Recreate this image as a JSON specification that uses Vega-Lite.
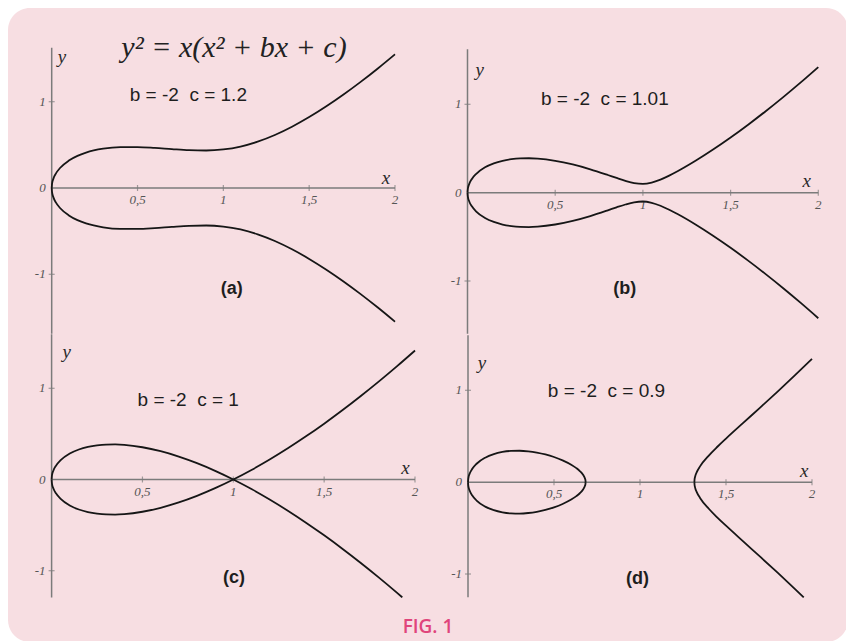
{
  "$schema": "https://vega.github.io/schema/vega-lite/v6.json",
  "width": 846,
  "height": 641,
  "padding": 0,
  "autosize": {"type": "none"},
  "background": "#ffffff",
  "config": {"view": {"stroke": null}},
  "datasets": {
    "a": [
      {"t": "ax", "x": 0, "y": 0, "x2": 2, "y2": 0},
      {"t": "ax", "x": 0, "y": -1.688, "x2": 0, "y2": 1.626},
      {"t": "xt", "x": 0.5, "y": 0, "lab": "0,5"},
      {"t": "xt", "x": 1, "y": 0, "lab": "1"},
      {"t": "xt", "x": 1.5, "y": 0, "lab": "1,5"},
      {"t": "xt", "x": 2, "y": 0, "lab": "2"},
      {"t": "yt", "x": 0, "y": 1, "lab": "1"},
      {"t": "yt", "x": 0, "y": -1, "lab": "-1"},
      {"t": "y0", "x": 0, "y": 0, "lab": "0"},
      {"t": "prm", "x": 0.796, "y": 1.08, "lab": "b = -2\u00a0\u00a0c = 1.2"},
      {"t": "pl", "x": 1.049, "y": -1.167, "lab": "(a)"},
      {"t": "nm", "x": 1.948, "y": 0.119, "lab": "x"},
      {"t": "nm", "x": 0.06, "y": 1.521, "lab": "y"},
      {"t": "fml", "x": 1.062, "y": 1.626, "lab": "y² = x(x² + bx + c)"},
      {"t": "c", "b": "u", "x": 0, "y": 0},
      {"t": "c", "b": "u", "x": 0.002, "y": 0.0489},
      {"t": "c", "b": "u", "x": 0.01, "y": 0.1086},
      {"t": "c", "b": "u", "x": 0.025, "y": 0.1696},
      {"t": "c", "b": "u", "x": 0.05, "y": 0.2348},
      {"t": "c", "b": "u", "x": 0.1, "y": 0.3178},
      {"t": "c", "b": "u", "x": 0.15, "y": 0.372},
      {"t": "c", "b": "u", "x": 0.2, "y": 0.4099},
      {"t": "c", "b": "u", "x": 0.3, "y": 0.455},
      {"t": "c", "b": "u", "x": 0.4, "y": 0.4733},
      {"t": "c", "b": "u", "x": 0.5, "y": 0.4743},
      {"t": "c", "b": "u", "x": 0.6, "y": 0.4648},
      {"t": "c", "b": "u", "x": 0.7, "y": 0.4506},
      {"t": "c", "b": "u", "x": 0.8, "y": 0.4382},
      {"t": "c", "b": "u", "x": 0.9, "y": 0.4347},
      {"t": "c", "b": "u", "x": 1, "y": 0.4472},
      {"t": "c", "b": "u", "x": 1.1, "y": 0.4806},
      {"t": "c", "b": "u", "x": 1.2, "y": 0.5367},
      {"t": "c", "b": "u", "x": 1.3, "y": 0.614},
      {"t": "c", "b": "u", "x": 1.4, "y": 0.7099},
      {"t": "c", "b": "u", "x": 1.5, "y": 0.8216},
      {"t": "c", "b": "u", "x": 1.6, "y": 0.9466},
      {"t": "c", "b": "u", "x": 1.7, "y": 1.0831},
      {"t": "c", "b": "u", "x": 1.8, "y": 1.2296},
      {"t": "c", "b": "u", "x": 1.9, "y": 1.3853},
      {"t": "c", "b": "u", "x": 2, "y": 1.5492},
      {"t": "c", "b": "l", "x": 0, "y": 0},
      {"t": "c", "b": "l", "x": 0.002, "y": -0.0489},
      {"t": "c", "b": "l", "x": 0.01, "y": -0.1086},
      {"t": "c", "b": "l", "x": 0.025, "y": -0.1696},
      {"t": "c", "b": "l", "x": 0.05, "y": -0.2348},
      {"t": "c", "b": "l", "x": 0.1, "y": -0.3178},
      {"t": "c", "b": "l", "x": 0.15, "y": -0.372},
      {"t": "c", "b": "l", "x": 0.2, "y": -0.4099},
      {"t": "c", "b": "l", "x": 0.3, "y": -0.455},
      {"t": "c", "b": "l", "x": 0.4, "y": -0.4733},
      {"t": "c", "b": "l", "x": 0.5, "y": -0.4743},
      {"t": "c", "b": "l", "x": 0.6, "y": -0.4648},
      {"t": "c", "b": "l", "x": 0.7, "y": -0.4506},
      {"t": "c", "b": "l", "x": 0.8, "y": -0.4382},
      {"t": "c", "b": "l", "x": 0.9, "y": -0.4347},
      {"t": "c", "b": "l", "x": 1, "y": -0.4472},
      {"t": "c", "b": "l", "x": 1.1, "y": -0.4806},
      {"t": "c", "b": "l", "x": 1.2, "y": -0.5367},
      {"t": "c", "b": "l", "x": 1.3, "y": -0.614},
      {"t": "c", "b": "l", "x": 1.4, "y": -0.7099},
      {"t": "c", "b": "l", "x": 1.5, "y": -0.8216},
      {"t": "c", "b": "l", "x": 1.6, "y": -0.9466},
      {"t": "c", "b": "l", "x": 1.7, "y": -1.0831},
      {"t": "c", "b": "l", "x": 1.8, "y": -1.2296},
      {"t": "c", "b": "l", "x": 1.9, "y": -1.3853},
      {"t": "c", "b": "l", "x": 2, "y": -1.5492}
    ],
    "b": [
      {"t": "ax", "x": 0, "y": 0, "x2": 2, "y2": 0},
      {"t": "ax", "x": 0, "y": -1.597, "x2": 0, "y2": 1.624},
      {"t": "xt", "x": 0.5, "y": 0, "lab": "0,5"},
      {"t": "xt", "x": 1, "y": 0, "lab": "1"},
      {"t": "xt", "x": 1.5, "y": 0, "lab": "1,5"},
      {"t": "xt", "x": 2, "y": 0, "lab": "2"},
      {"t": "yt", "x": 0, "y": 1, "lab": "1"},
      {"t": "yt", "x": 0, "y": -1, "lab": "-1"},
      {"t": "y0", "x": 0, "y": 0, "lab": "0"},
      {"t": "prm", "x": 0.783, "y": 1.055, "lab": "b = -2\u00a0\u00a0c = 1.01"},
      {"t": "pl", "x": 0.897, "y": -1.09, "lab": "(b)"},
      {"t": "nm", "x": 1.934, "y": 0.131, "lab": "x"},
      {"t": "nm", "x": 0.07, "y": 1.39, "lab": "y"},
      {"t": "c", "b": "u", "x": 0, "y": 0},
      {"t": "c", "b": "u", "x": 0.002, "y": 0.0449},
      {"t": "c", "b": "u", "x": 0.01, "y": 0.0995},
      {"t": "c", "b": "u", "x": 0.025, "y": 0.155},
      {"t": "c", "b": "u", "x": 0.05, "y": 0.2136},
      {"t": "c", "b": "u", "x": 0.1, "y": 0.2864},
      {"t": "c", "b": "u", "x": 0.15, "y": 0.3315},
      {"t": "c", "b": "u", "x": 0.2, "y": 0.3606},
      {"t": "c", "b": "u", "x": 0.25, "y": 0.3783},
      {"t": "c", "b": "u", "x": 0.3, "y": 0.3873},
      {"t": "c", "b": "u", "x": 0.35, "y": 0.3891},
      {"t": "c", "b": "u", "x": 0.4, "y": 0.3847},
      {"t": "c", "b": "u", "x": 0.5, "y": 0.3606},
      {"t": "c", "b": "u", "x": 0.6, "y": 0.3194},
      {"t": "c", "b": "u", "x": 0.7, "y": 0.2646},
      {"t": "c", "b": "u", "x": 0.8, "y": 0.2},
      {"t": "c", "b": "u", "x": 0.85, "y": 0.1662},
      {"t": "c", "b": "u", "x": 0.9, "y": 0.1342},
      {"t": "c", "b": "u", "x": 0.95, "y": 0.109},
      {"t": "c", "b": "u", "x": 1, "y": 0.1},
      {"t": "c", "b": "u", "x": 1.05, "y": 0.1146},
      {"t": "c", "b": "u", "x": 1.1, "y": 0.1483},
      {"t": "c", "b": "u", "x": 1.15, "y": 0.1933},
      {"t": "c", "b": "u", "x": 1.2, "y": 0.245},
      {"t": "c", "b": "u", "x": 1.3, "y": 0.3606},
      {"t": "c", "b": "u", "x": 1.4, "y": 0.4879},
      {"t": "c", "b": "u", "x": 1.5, "y": 0.6245},
      {"t": "c", "b": "u", "x": 1.6, "y": 0.7694},
      {"t": "c", "b": "u", "x": 1.7, "y": 0.922},
      {"t": "c", "b": "u", "x": 1.8, "y": 1.0817},
      {"t": "c", "b": "u", "x": 1.9, "y": 1.2482},
      {"t": "c", "b": "u", "x": 2, "y": 1.4213},
      {"t": "c", "b": "l", "x": 0, "y": 0},
      {"t": "c", "b": "l", "x": 0.002, "y": -0.0449},
      {"t": "c", "b": "l", "x": 0.01, "y": -0.0995},
      {"t": "c", "b": "l", "x": 0.025, "y": -0.155},
      {"t": "c", "b": "l", "x": 0.05, "y": -0.2136},
      {"t": "c", "b": "l", "x": 0.1, "y": -0.2864},
      {"t": "c", "b": "l", "x": 0.15, "y": -0.3315},
      {"t": "c", "b": "l", "x": 0.2, "y": -0.3606},
      {"t": "c", "b": "l", "x": 0.25, "y": -0.3783},
      {"t": "c", "b": "l", "x": 0.3, "y": -0.3873},
      {"t": "c", "b": "l", "x": 0.35, "y": -0.3891},
      {"t": "c", "b": "l", "x": 0.4, "y": -0.3847},
      {"t": "c", "b": "l", "x": 0.5, "y": -0.3606},
      {"t": "c", "b": "l", "x": 0.6, "y": -0.3194},
      {"t": "c", "b": "l", "x": 0.7, "y": -0.2646},
      {"t": "c", "b": "l", "x": 0.8, "y": -0.2},
      {"t": "c", "b": "l", "x": 0.85, "y": -0.1662},
      {"t": "c", "b": "l", "x": 0.9, "y": -0.1342},
      {"t": "c", "b": "l", "x": 0.95, "y": -0.109},
      {"t": "c", "b": "l", "x": 1, "y": -0.1},
      {"t": "c", "b": "l", "x": 1.05, "y": -0.1146},
      {"t": "c", "b": "l", "x": 1.1, "y": -0.1483},
      {"t": "c", "b": "l", "x": 1.15, "y": -0.1933},
      {"t": "c", "b": "l", "x": 1.2, "y": -0.245},
      {"t": "c", "b": "l", "x": 1.3, "y": -0.3606},
      {"t": "c", "b": "l", "x": 1.4, "y": -0.4879},
      {"t": "c", "b": "l", "x": 1.5, "y": -0.6245},
      {"t": "c", "b": "l", "x": 1.6, "y": -0.7694},
      {"t": "c", "b": "l", "x": 1.7, "y": -0.922},
      {"t": "c", "b": "l", "x": 1.8, "y": -1.0817},
      {"t": "c", "b": "l", "x": 1.9, "y": -1.2482},
      {"t": "c", "b": "l", "x": 2, "y": -1.4213}
    ],
    "c": [
      {"t": "ax", "x": 0, "y": 0, "x2": 2, "y2": 0},
      {"t": "ax", "x": 0, "y": -1.294, "x2": 0, "y2": 1.593},
      {"t": "xt", "x": 0.5, "y": 0, "lab": "0,5"},
      {"t": "xt", "x": 1, "y": 0, "lab": "1"},
      {"t": "xt", "x": 1.5, "y": 0, "lab": "1,5"},
      {"t": "xt", "x": 2, "y": 0, "lab": "2"},
      {"t": "yt", "x": 0, "y": 1, "lab": "1"},
      {"t": "yt", "x": 0, "y": -1, "lab": "-1"},
      {"t": "y0", "x": 0, "y": 0, "lab": "0"},
      {"t": "prm", "x": 0.752, "y": 0.87, "lab": "b = -2\u00a0\u00a0c = 1"},
      {"t": "pl", "x": 1.004, "y": -1.077, "lab": "(c)"},
      {"t": "nm", "x": 1.948, "y": 0.127, "lab": "x"},
      {"t": "nm", "x": 0.083, "y": 1.4, "lab": "y"},
      {"t": "c", "b": "p", "x": 0, "y": 0},
      {"t": "c", "b": "p", "x": 0.002, "y": 0.0446},
      {"t": "c", "b": "p", "x": 0.01, "y": 0.099},
      {"t": "c", "b": "p", "x": 0.025, "y": 0.1542},
      {"t": "c", "b": "p", "x": 0.05, "y": 0.2124},
      {"t": "c", "b": "p", "x": 0.1, "y": 0.2846},
      {"t": "c", "b": "p", "x": 0.15, "y": 0.3292},
      {"t": "c", "b": "p", "x": 0.2, "y": 0.3578},
      {"t": "c", "b": "p", "x": 0.25, "y": 0.375},
      {"t": "c", "b": "p", "x": 0.3, "y": 0.3834},
      {"t": "c", "b": "p", "x": 0.35, "y": 0.3845},
      {"t": "c", "b": "p", "x": 0.4, "y": 0.3795},
      {"t": "c", "b": "p", "x": 0.5, "y": 0.3536},
      {"t": "c", "b": "p", "x": 0.6, "y": 0.3098},
      {"t": "c", "b": "p", "x": 0.7, "y": 0.251},
      {"t": "c", "b": "p", "x": 0.8, "y": 0.1789},
      {"t": "c", "b": "p", "x": 0.9, "y": 0.0949},
      {"t": "c", "b": "p", "x": 1, "y": 0},
      {"t": "c", "b": "p", "x": 1.1, "y": -0.1049},
      {"t": "c", "b": "p", "x": 1.2, "y": -0.2191},
      {"t": "c", "b": "p", "x": 1.3, "y": -0.3421},
      {"t": "c", "b": "p", "x": 1.4, "y": -0.4733},
      {"t": "c", "b": "p", "x": 1.5, "y": -0.6124},
      {"t": "c", "b": "p", "x": 1.6, "y": -0.7589},
      {"t": "c", "b": "p", "x": 1.7, "y": -0.9127},
      {"t": "c", "b": "p", "x": 1.8, "y": -1.0733},
      {"t": "c", "b": "p", "x": 1.9, "y": -1.2406},
      {"t": "c", "b": "p", "x": 1.93, "y": -1.292},
      {"t": "c", "b": "n", "x": 0, "y": 0},
      {"t": "c", "b": "n", "x": 0.002, "y": -0.0446},
      {"t": "c", "b": "n", "x": 0.01, "y": -0.099},
      {"t": "c", "b": "n", "x": 0.025, "y": -0.1542},
      {"t": "c", "b": "n", "x": 0.05, "y": -0.2124},
      {"t": "c", "b": "n", "x": 0.1, "y": -0.2846},
      {"t": "c", "b": "n", "x": 0.15, "y": -0.3292},
      {"t": "c", "b": "n", "x": 0.2, "y": -0.3578},
      {"t": "c", "b": "n", "x": 0.25, "y": -0.375},
      {"t": "c", "b": "n", "x": 0.3, "y": -0.3834},
      {"t": "c", "b": "n", "x": 0.35, "y": -0.3845},
      {"t": "c", "b": "n", "x": 0.4, "y": -0.3795},
      {"t": "c", "b": "n", "x": 0.5, "y": -0.3536},
      {"t": "c", "b": "n", "x": 0.6, "y": -0.3098},
      {"t": "c", "b": "n", "x": 0.7, "y": -0.251},
      {"t": "c", "b": "n", "x": 0.8, "y": -0.1789},
      {"t": "c", "b": "n", "x": 0.9, "y": -0.0949},
      {"t": "c", "b": "n", "x": 1, "y": 0},
      {"t": "c", "b": "n", "x": 1.1, "y": 0.1049},
      {"t": "c", "b": "n", "x": 1.2, "y": 0.2191},
      {"t": "c", "b": "n", "x": 1.3, "y": 0.3421},
      {"t": "c", "b": "n", "x": 1.4, "y": 0.4733},
      {"t": "c", "b": "n", "x": 1.5, "y": 0.6124},
      {"t": "c", "b": "n", "x": 1.6, "y": 0.7589},
      {"t": "c", "b": "n", "x": 1.7, "y": 0.9127},
      {"t": "c", "b": "n", "x": 1.8, "y": 1.0733},
      {"t": "c", "b": "n", "x": 1.9, "y": 1.2406},
      {"t": "c", "b": "n", "x": 2, "y": 1.4142}
    ],
    "d": [
      {"t": "ax", "x": 0, "y": 0, "x2": 2, "y2": 0},
      {"t": "ax", "x": 0, "y": -1.254, "x2": 0, "y2": 1.6},
      {"t": "xt", "x": 0.5, "y": 0, "lab": "0,5"},
      {"t": "xt", "x": 1, "y": 0, "lab": "1"},
      {"t": "xt", "x": 1.5, "y": 0, "lab": "1,5"},
      {"t": "xt", "x": 2, "y": 0, "lab": "2"},
      {"t": "yt", "x": 0, "y": 1, "lab": "1"},
      {"t": "yt", "x": 0, "y": -1, "lab": "-1"},
      {"t": "y0", "x": 0, "y": 0, "lab": "0"},
      {"t": "prm", "x": 0.805, "y": 0.992, "lab": "b = -2\u00a0\u00a0c = 0.9"},
      {"t": "pl", "x": 0.986, "y": -1.053, "lab": "(d)"},
      {"t": "nm", "x": 1.955, "y": 0.12, "lab": "x"},
      {"t": "nm", "x": 0.081, "y": 1.3, "lab": "y"},
      {"t": "c", "b": "eu", "x": 0, "y": 0},
      {"t": "c", "b": "eu", "x": 0.002, "y": 0.0423},
      {"t": "c", "b": "eu", "x": 0.01, "y": 0.0938},
      {"t": "c", "b": "eu", "x": 0.025, "y": 0.1458},
      {"t": "c", "b": "eu", "x": 0.05, "y": 0.2003},
      {"t": "c", "b": "eu", "x": 0.1, "y": 0.2665},
      {"t": "c", "b": "eu", "x": 0.15, "y": 0.3056},
      {"t": "c", "b": "eu", "x": 0.2, "y": 0.3286},
      {"t": "c", "b": "eu", "x": 0.25, "y": 0.34},
      {"t": "c", "b": "eu", "x": 0.3, "y": 0.3421},
      {"t": "c", "b": "eu", "x": 0.35, "y": 0.336},
      {"t": "c", "b": "eu", "x": 0.4, "y": 0.3225},
      {"t": "c", "b": "eu", "x": 0.45, "y": 0.3019},
      {"t": "c", "b": "eu", "x": 0.5, "y": 0.2739},
      {"t": "c", "b": "eu", "x": 0.55, "y": 0.2374},
      {"t": "c", "b": "eu", "x": 0.6, "y": 0.1897},
      {"t": "c", "b": "eu", "x": 0.63, "y": 0.1525},
      {"t": "c", "b": "eu", "x": 0.65, "y": 0.1209},
      {"t": "c", "b": "eu", "x": 0.67, "y": 0.0772},
      {"t": "c", "b": "eu", "x": 0.68, "y": 0.0404},
      {"t": "c", "b": "eu", "x": 0.683, "y": 0.0183},
      {"t": "c", "b": "eu", "x": 0.6838, "y": 0},
      {"t": "c", "b": "el", "x": 0, "y": 0},
      {"t": "c", "b": "el", "x": 0.002, "y": -0.0423},
      {"t": "c", "b": "el", "x": 0.01, "y": -0.0938},
      {"t": "c", "b": "el", "x": 0.025, "y": -0.1458},
      {"t": "c", "b": "el", "x": 0.05, "y": -0.2003},
      {"t": "c", "b": "el", "x": 0.1, "y": -0.2665},
      {"t": "c", "b": "el", "x": 0.15, "y": -0.3056},
      {"t": "c", "b": "el", "x": 0.2, "y": -0.3286},
      {"t": "c", "b": "el", "x": 0.25, "y": -0.34},
      {"t": "c", "b": "el", "x": 0.3, "y": -0.3421},
      {"t": "c", "b": "el", "x": 0.35, "y": -0.336},
      {"t": "c", "b": "el", "x": 0.4, "y": -0.3225},
      {"t": "c", "b": "el", "x": 0.45, "y": -0.3019},
      {"t": "c", "b": "el", "x": 0.5, "y": -0.2739},
      {"t": "c", "b": "el", "x": 0.55, "y": -0.2374},
      {"t": "c", "b": "el", "x": 0.6, "y": -0.1897},
      {"t": "c", "b": "el", "x": 0.63, "y": -0.1525},
      {"t": "c", "b": "el", "x": 0.65, "y": -0.1209},
      {"t": "c", "b": "el", "x": 0.67, "y": -0.0772},
      {"t": "c", "b": "el", "x": 0.68, "y": -0.0404},
      {"t": "c", "b": "el", "x": 0.683, "y": -0.0183},
      {"t": "c", "b": "el", "x": 0.6838, "y": 0},
      {"t": "c", "b": "ru", "x": 1.3162, "y": 0},
      {"t": "c", "b": "ru", "x": 1.317, "y": 0.0254},
      {"t": "c", "b": "ru", "x": 1.32, "y": 0.0563},
      {"t": "c", "b": "ru", "x": 1.33, "y": 0.1088},
      {"t": "c", "b": "ru", "x": 1.35, "y": 0.1743},
      {"t": "c", "b": "ru", "x": 1.4, "y": 0.2898},
      {"t": "c", "b": "ru", "x": 1.45, "y": 0.3855},
      {"t": "c", "b": "ru", "x": 1.5, "y": 0.4743},
      {"t": "c", "b": "ru", "x": 1.6, "y": 0.645},
      {"t": "c", "b": "ru", "x": 1.7, "y": 0.8143},
      {"t": "c", "b": "ru", "x": 1.8, "y": 0.9859},
      {"t": "c", "b": "ru", "x": 1.9, "y": 1.1615},
      {"t": "c", "b": "ru", "x": 2, "y": 1.3416},
      {"t": "c", "b": "rl", "x": 1.3162, "y": 0},
      {"t": "c", "b": "rl", "x": 1.317, "y": -0.0254},
      {"t": "c", "b": "rl", "x": 1.32, "y": -0.0563},
      {"t": "c", "b": "rl", "x": 1.33, "y": -0.1088},
      {"t": "c", "b": "rl", "x": 1.35, "y": -0.1743},
      {"t": "c", "b": "rl", "x": 1.4, "y": -0.2898},
      {"t": "c", "b": "rl", "x": 1.45, "y": -0.3855},
      {"t": "c", "b": "rl", "x": 1.5, "y": -0.4743},
      {"t": "c", "b": "rl", "x": 1.6, "y": -0.645},
      {"t": "c", "b": "rl", "x": 1.7, "y": -0.8143},
      {"t": "c", "b": "rl", "x": 1.8, "y": -0.9859},
      {"t": "c", "b": "rl", "x": 1.9, "y": -1.1615},
      {"t": "c", "b": "rl", "x": 1.952, "y": -1.2546}
    ]
  },
  "layer": [
    {
      "data": {"values": [
        {"t": "bg", "x": 0, "x2": 1, "y": 0, "y2": 1},
        {"t": "fig", "x": 0.5, "y": 0.024, "lab": "FIG. 1"}
      ]},
      "encoding": {
        "x": {"field": "x", "type": "quantitative", "axis": null, "scale": {"domain": [0, 1], "range": [8, 848], "nice": false, "zero": false}},
        "y": {"field": "y", "type": "quantitative", "axis": null, "scale": {"domain": [0, 1], "range": [642, 8], "nice": false, "zero": false}}
      },
      "layer": [
        {"transform": [{"filter": "datum.t == 'bg'"}], "mark": {"type": "rect", "color": "#f7dee2", "cornerRadius": 22}, "encoding": {"x2": {"field": "x2"}, "y2": {"field": "y2"}}},
        {"transform": [{"filter": "datum.t == 'fig'"}], "mark": {"type": "text", "font": "Open Sans", "fontWeight": 600, "fontSize": 19, "color": "#e0457b", "align": "center", "baseline": "middle"}, "encoding": {"text": {"field": "lab"}}}
      ]
    },
    {
      "data": {"name": "a"},
      "encoding": {
        "x": {"field": "x", "type": "quantitative", "axis": null, "scale": {"domain": [0, 2], "range": [51.7, 395], "nice": false, "zero": false}},
        "y": {"field": "y", "type": "quantitative", "axis": null, "scale": {"domain": [-1, 1], "range": [274.3, 101.7], "nice": false, "zero": false}}
      },
      "layer": [
        {"transform": [{"filter": "datum.t == 'ax'"}], "mark": {"type": "rule", "color": "#7b7b7b", "strokeWidth": 1.5}, "encoding": {"x2": {"field": "x2"}, "y2": {"field": "y2"}}},
        {"transform": [{"filter": "datum.t == 'xt'"}], "mark": {"type": "tick", "orient": "vertical", "color": "#7b7b7b", "thickness": 1.2, "size": 6}},
        {"transform": [{"filter": "datum.t == 'yt'"}], "mark": {"type": "tick", "orient": "horizontal", "color": "#7b7b7b", "thickness": 1.2, "size": 6}},
        {"transform": [{"filter": "datum.t == 'xt'"}], "mark": {"type": "text", "font": "Liberation Serif", "fontStyle": "italic", "fontSize": 13, "color": "#555555", "align": "center", "baseline": "middle", "dy": 12}, "encoding": {"text": {"field": "lab"}}},
        {"transform": [{"filter": "datum.t == 'yt' || datum.t == 'y0'"}], "mark": {"type": "text", "font": "Liberation Serif", "fontStyle": "italic", "fontSize": 13, "color": "#555555", "align": "right", "baseline": "middle", "dx": -6}, "encoding": {"text": {"field": "lab"}}},
        {"transform": [{"filter": "datum.t == 'c'"}], "mark": {"type": "line", "color": "#161616", "strokeWidth": 1.8, "interpolate": "monotone"}, "encoding": {"detail": {"field": "b"}}},
        {"transform": [{"filter": "datum.t == 'prm'"}], "mark": {"type": "text", "font": "Liberation Sans", "fontSize": 19, "color": "#1e1e1e", "align": "center", "baseline": "middle"}, "encoding": {"text": {"field": "lab"}}},
        {"transform": [{"filter": "datum.t == 'pl'"}], "mark": {"type": "text", "font": "Liberation Sans", "fontWeight": "bold", "fontSize": 18, "color": "#1e1e1e", "align": "center", "baseline": "middle"}, "encoding": {"text": {"field": "lab"}}},
        {"transform": [{"filter": "datum.t == 'nm'"}], "mark": {"type": "text", "font": "Liberation Serif", "fontStyle": "italic", "fontSize": 19, "color": "#2a2a2a", "align": "center", "baseline": "middle"}, "encoding": {"text": {"field": "lab"}}},
        {"transform": [{"filter": "datum.t == 'fml'"}], "mark": {"type": "text", "font": "Liberation Serif", "fontStyle": "italic", "fontSize": 30, "color": "#222222", "align": "center", "baseline": "middle"}, "encoding": {"text": {"field": "lab"}}}
      ]
    },
    {
      "data": {"name": "b"},
      "encoding": {
        "x": {"field": "x", "type": "quantitative", "axis": null, "scale": {"domain": [0, 2], "range": [467.5, 818.3], "nice": false, "zero": false}},
        "y": {"field": "y", "type": "quantitative", "axis": null, "scale": {"domain": [-1, 1], "range": [281, 104.3], "nice": false, "zero": false}}
      },
      "layer": [
        {"transform": [{"filter": "datum.t == 'ax'"}], "mark": {"type": "rule", "color": "#7b7b7b", "strokeWidth": 1.5}, "encoding": {"x2": {"field": "x2"}, "y2": {"field": "y2"}}},
        {"transform": [{"filter": "datum.t == 'xt'"}], "mark": {"type": "tick", "orient": "vertical", "color": "#7b7b7b", "thickness": 1.2, "size": 6}},
        {"transform": [{"filter": "datum.t == 'yt'"}], "mark": {"type": "tick", "orient": "horizontal", "color": "#7b7b7b", "thickness": 1.2, "size": 6}},
        {"transform": [{"filter": "datum.t == 'xt'"}], "mark": {"type": "text", "font": "Liberation Serif", "fontStyle": "italic", "fontSize": 13, "color": "#555555", "align": "center", "baseline": "middle", "dy": 12}, "encoding": {"text": {"field": "lab"}}},
        {"transform": [{"filter": "datum.t == 'yt' || datum.t == 'y0'"}], "mark": {"type": "text", "font": "Liberation Serif", "fontStyle": "italic", "fontSize": 13, "color": "#555555", "align": "right", "baseline": "middle", "dx": -6}, "encoding": {"text": {"field": "lab"}}},
        {"transform": [{"filter": "datum.t == 'c'"}], "mark": {"type": "line", "color": "#161616", "strokeWidth": 1.8, "interpolate": "monotone"}, "encoding": {"detail": {"field": "b"}}},
        {"transform": [{"filter": "datum.t == 'prm'"}], "mark": {"type": "text", "font": "Liberation Sans", "fontSize": 19, "color": "#1e1e1e", "align": "center", "baseline": "middle"}, "encoding": {"text": {"field": "lab"}}},
        {"transform": [{"filter": "datum.t == 'pl'"}], "mark": {"type": "text", "font": "Liberation Sans", "fontWeight": "bold", "fontSize": 18, "color": "#1e1e1e", "align": "center", "baseline": "middle"}, "encoding": {"text": {"field": "lab"}}},
        {"transform": [{"filter": "datum.t == 'nm'"}], "mark": {"type": "text", "font": "Liberation Serif", "fontStyle": "italic", "fontSize": 19, "color": "#2a2a2a", "align": "center", "baseline": "middle"}, "encoding": {"text": {"field": "lab"}}}
      ]
    },
    {
      "data": {"name": "c"},
      "encoding": {
        "x": {"field": "x", "type": "quantitative", "axis": null, "scale": {"domain": [0, 2], "range": [51.6, 415], "nice": false, "zero": false}},
        "y": {"field": "y", "type": "quantitative", "axis": null, "scale": {"domain": [-1, 1], "range": [570.7, 388.3], "nice": false, "zero": false}}
      },
      "layer": [
        {"transform": [{"filter": "datum.t == 'ax'"}], "mark": {"type": "rule", "color": "#7b7b7b", "strokeWidth": 1.5}, "encoding": {"x2": {"field": "x2"}, "y2": {"field": "y2"}}},
        {"transform": [{"filter": "datum.t == 'xt'"}], "mark": {"type": "tick", "orient": "vertical", "color": "#7b7b7b", "thickness": 1.2, "size": 6}},
        {"transform": [{"filter": "datum.t == 'yt'"}], "mark": {"type": "tick", "orient": "horizontal", "color": "#7b7b7b", "thickness": 1.2, "size": 6}},
        {"transform": [{"filter": "datum.t == 'xt'"}], "mark": {"type": "text", "font": "Liberation Serif", "fontStyle": "italic", "fontSize": 13, "color": "#555555", "align": "center", "baseline": "middle", "dy": 12}, "encoding": {"text": {"field": "lab"}}},
        {"transform": [{"filter": "datum.t == 'yt' || datum.t == 'y0'"}], "mark": {"type": "text", "font": "Liberation Serif", "fontStyle": "italic", "fontSize": 13, "color": "#555555", "align": "right", "baseline": "middle", "dx": -6}, "encoding": {"text": {"field": "lab"}}},
        {"transform": [{"filter": "datum.t == 'c'"}], "mark": {"type": "line", "color": "#161616", "strokeWidth": 1.8, "interpolate": "monotone"}, "encoding": {"detail": {"field": "b"}}},
        {"transform": [{"filter": "datum.t == 'prm'"}], "mark": {"type": "text", "font": "Liberation Sans", "fontSize": 19, "color": "#1e1e1e", "align": "center", "baseline": "middle"}, "encoding": {"text": {"field": "lab"}}},
        {"transform": [{"filter": "datum.t == 'pl'"}], "mark": {"type": "text", "font": "Liberation Sans", "fontWeight": "bold", "fontSize": 18, "color": "#1e1e1e", "align": "center", "baseline": "middle"}, "encoding": {"text": {"field": "lab"}}},
        {"transform": [{"filter": "datum.t == 'nm'"}], "mark": {"type": "text", "font": "Liberation Serif", "fontStyle": "italic", "fontSize": 19, "color": "#2a2a2a", "align": "center", "baseline": "middle"}, "encoding": {"text": {"field": "lab"}}}
      ]
    },
    {
      "data": {"name": "d"},
      "encoding": {
        "x": {"field": "x", "type": "quantitative", "axis": null, "scale": {"domain": [0, 2], "range": [468, 812], "nice": false, "zero": false}},
        "y": {"field": "y", "type": "quantitative", "axis": null, "scale": {"domain": [-1, 1], "range": [574, 390.3], "nice": false, "zero": false}}
      },
      "layer": [
        {"transform": [{"filter": "datum.t == 'ax'"}], "mark": {"type": "rule", "color": "#7b7b7b", "strokeWidth": 1.5}, "encoding": {"x2": {"field": "x2"}, "y2": {"field": "y2"}}},
        {"transform": [{"filter": "datum.t == 'xt'"}], "mark": {"type": "tick", "orient": "vertical", "color": "#7b7b7b", "thickness": 1.2, "size": 6}},
        {"transform": [{"filter": "datum.t == 'yt'"}], "mark": {"type": "tick", "orient": "horizontal", "color": "#7b7b7b", "thickness": 1.2, "size": 6}},
        {"transform": [{"filter": "datum.t == 'xt'"}], "mark": {"type": "text", "font": "Liberation Serif", "fontStyle": "italic", "fontSize": 13, "color": "#555555", "align": "center", "baseline": "middle", "dy": 12}, "encoding": {"text": {"field": "lab"}}},
        {"transform": [{"filter": "datum.t == 'yt' || datum.t == 'y0'"}], "mark": {"type": "text", "font": "Liberation Serif", "fontStyle": "italic", "fontSize": 13, "color": "#555555", "align": "right", "baseline": "middle", "dx": -6}, "encoding": {"text": {"field": "lab"}}},
        {"transform": [{"filter": "datum.t == 'c'"}], "mark": {"type": "line", "color": "#161616", "strokeWidth": 1.8, "interpolate": "monotone"}, "encoding": {"detail": {"field": "b"}}},
        {"transform": [{"filter": "datum.t == 'prm'"}], "mark": {"type": "text", "font": "Liberation Sans", "fontSize": 19, "color": "#1e1e1e", "align": "center", "baseline": "middle"}, "encoding": {"text": {"field": "lab"}}},
        {"transform": [{"filter": "datum.t == 'pl'"}], "mark": {"type": "text", "font": "Liberation Sans", "fontWeight": "bold", "fontSize": 18, "color": "#1e1e1e", "align": "center", "baseline": "middle"}, "encoding": {"text": {"field": "lab"}}},
        {"transform": [{"filter": "datum.t == 'nm'"}], "mark": {"type": "text", "font": "Liberation Serif", "fontStyle": "italic", "fontSize": 19, "color": "#2a2a2a", "align": "center", "baseline": "middle"}, "encoding": {"text": {"field": "lab"}}}
      ]
    }
  ],
  "resolve": {"scale": {"x": "independent", "y": "independent"}}
}
